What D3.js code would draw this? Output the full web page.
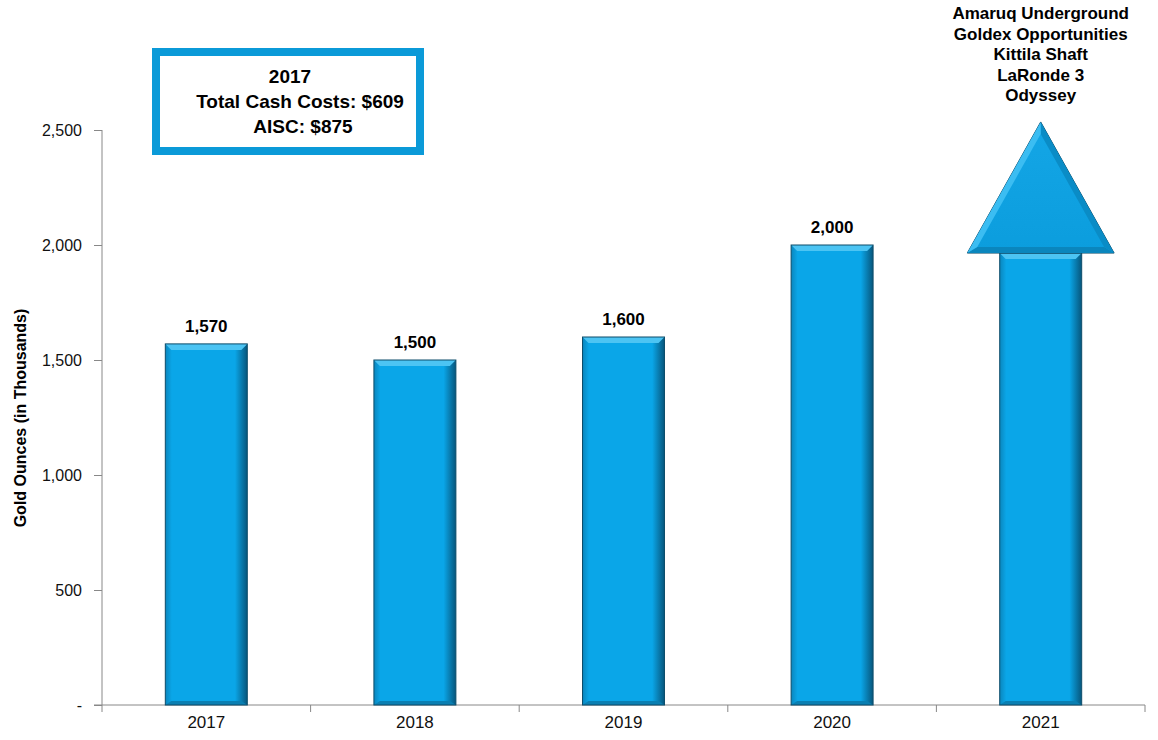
<!DOCTYPE html>
<html>
<head>
<meta charset="utf-8">
<script src="https://cdn.jsdelivr.net/npm/d3@7"></script>
<style>
  body { margin: 0; background: #fff; }
  svg { display: block; font-family: "Liberation Sans", Arial, sans-serif; }
</style>
</head>
<body>
<svg id="chart" width="1158" height="740"></svg>
<script>
  // chart data
  const years = ['2017', '2018', '2019', '2020', '2021'];
  const production = [1570, 1500, 1600, 2000, 1965];
  const valueLabels = ['1,570', '1,500', '1,600', '2,000', null];
  const arrowTip = 2535;
  const yTicks = [0, 500, 1000, 1500, 2000, 2500];
  const yTickLabels = ['-', '500', '1,000', '1,500', '2,000', '2,500'];
  const boxLines = ['2017', 'Total Cash Costs: $609', 'AISC: $875'];
  const projectLines = ['Amaruq Underground', 'Goldex Opportunities', 'Kittila Shaft', 'LaRonde 3', 'Odyssey'];

  const data = years.map((y, i) => ({ year: y, value: production[i], label: valueLabels[i] }));

  const svg = d3.select('#chart');

  const x = d3.scaleBand()
    .domain(years)
    .range([102, 1145])
    .padding(0);

  const y = d3.scaleLinear()
    .domain([0, 2500])
    .range([705, 130]);

  const barW = x.bandwidth() * 0.393;
  const bev = 6;

  // gradients
  const defs = svg.append('defs');
  const grad = defs.append('linearGradient').attr('id', 'barGrad')
    .attr('x1', 0).attr('x2', 1).attr('y1', 0).attr('y2', 0);
  grad.append('stop').attr('offset', '0%').attr('stop-color', '#0a86bd');
  grad.append('stop').attr('offset', '8%').attr('stop-color', '#0aa6e8');
  grad.append('stop').attr('offset', '85%').attr('stop-color', '#0aa6e8');
  grad.append('stop').attr('offset', '100%').attr('stop-color', '#07567c');

  const headGrad = defs.append('linearGradient').attr('id', 'headGrad')
    .attr('x1', 0).attr('x2', 0).attr('y1', 0).attr('y2', 1);
  headGrad.append('stop').attr('offset', '0%').attr('stop-color', '#14a6e6');
  headGrad.append('stop').attr('offset', '100%').attr('stop-color', '#0b9ddd');

  // y axis
  const yAxis = d3.axisLeft(y)
    .tickValues(yTicks)
    .tickFormat((d, i) => yTickLabels[i])
    .tickSize(8)
    .tickPadding(12);

  const yAxisG = svg.append('g')
    .attr('transform', 'translate(102,0)')
    .call(yAxis);
  yAxisG.selectAll('line, path').attr('stroke', '#888');
  yAxisG.selectAll('text')
    .attr('font-size', 16)
    .attr('fill', '#111')
    .attr('font-family', '"Liberation Sans", Arial, sans-serif');
  yAxisG.select('.domain').attr('d', 'M0,130V705');

  svg.append('text')
    .attr('transform', 'translate(26,418) rotate(-90)')
    .attr('text-anchor', 'middle')
    .attr('font-size', 16)
    .attr('font-weight', 'bold')
    .attr('fill', '#000')
    .text('Gold Ounces (in Thousands)');

  // x axis
  const xAxis = d3.axisBottom(x)
    .tickSize(0)
    .tickPadding(11);

  const xAxisG = svg.append('g')
    .attr('transform', 'translate(0,705)')
    .call(xAxis);
  xAxisG.select('.domain').attr('stroke', '#888').attr('d', 'M94,0H1145');
  xAxisG.selectAll('text')
    .attr('font-size', 17)
    .attr('fill', '#111')
    .attr('font-family', '"Liberation Sans", Arial, sans-serif');

  const bounds = years.map(d => x(d)).concat([x.range()[1]]);
  xAxisG.selectAll('.bound').data(bounds)
    .enter().append('line')
      .attr('class', 'bound')
      .attr('x1', d => d).attr('x2', d => d)
      .attr('y1', 0).attr('y2', 7)
      .attr('stroke', '#888');

  // bars
  const bars = svg.append('g').selectAll('g.bar').data(data)
    .enter().append('g').attr('class', 'bar');

  bars.each(function(d) {
    const g = d3.select(this);
    const x0 = x(d.year) + (x.bandwidth() - barW) / 2;
    const x1 = x0 + barW;
    const y0 = y(d.value);
    const y1 = y(0);
    g.append('rect')
      .attr('x', x0).attr('y', y0)
      .attr('width', barW).attr('height', y1 - y0)
      .attr('fill', 'url(#barGrad)');
    // top bevel
    g.append('polygon')
      .attr('points', [[x0, y0], [x1, y0], [x1 - bev, y0 + bev], [x0 + bev, y0 + bev]].join(' '))
      .attr('fill', '#4cc4f3');
    // bottom bevel
    g.append('polygon')
      .attr('points', [[x0, y1], [x1, y1], [x1 - bev, y1 - 4], [x0 + bev, y1 - 4]].join(' '))
      .attr('fill', '#0a7fb2');
    g.append('rect')
      .attr('x', x0).attr('y', y0)
      .attr('width', barW).attr('height', y1 - y0)
      .attr('fill', 'none')
      .attr('stroke', '#0d4d6b')
      .attr('stroke-width', 1);
  });

  // value labels
  svg.append('g').selectAll('text').data(data.filter(d => d.label))
    .enter().append('text')
      .attr('x', d => x(d.year) + x.bandwidth() / 2)
      .attr('y', d => y(d.value) - 12)
      .attr('text-anchor', 'middle')
      .attr('font-size', 17)
      .attr('font-weight', 'bold')
      .attr('fill', '#000')
      .text(d => d.label);

  // arrow head on the last bar
  const last = data[data.length - 1];
  const cx = x(last.year) + x.bandwidth() / 2;
  const headHalf = x.bandwidth() * 0.352;
  const baseY = y(last.value);
  const tipY = y(arrowTip);
  const hb = 6;
  const head = svg.append('g');
  head.append('polygon')
    .attr('points', [[cx - headHalf, baseY], [cx + headHalf, baseY], [cx, tipY]].join(' '))
    .attr('fill', 'url(#headGrad)')
    .attr('stroke', '#0d4d6b')
    .attr('stroke-width', 1);
  head.append('polygon')
    .attr('points', [[cx - headHalf, baseY], [cx + headHalf, baseY],
                     [cx + headHalf - 10, baseY - hb], [cx - headHalf + 10, baseY - hb]].join(' '))
    .attr('fill', '#0a86bd');
  head.append('polygon')
    .attr('points', [[cx, tipY], [cx + headHalf, baseY], [cx + headHalf - 10, baseY - hb], [cx, tipY + 12]].join(' '))
    .attr('fill', '#0a8cc6');
  head.append('polygon')
    .attr('points', [[cx, tipY], [cx - headHalf, baseY], [cx - headHalf + 10, baseY - hb], [cx, tipY + 12]].join(' '))
    .attr('fill', '#3bbdf2');

  // project list above the arrow
  svg.append('text')
    .attr('text-anchor', 'middle')
    .attr('font-size', 17)
    .attr('font-weight', 'bold')
    .attr('fill', '#000')
    .selectAll('tspan').data(projectLines)
    .enter().append('tspan')
      .attr('x', cx)
      .attr('y', (d, i) => 19 + i * 20.5)
      .text(d => d);

  // 2017 cost box
  svg.append('rect')
    .attr('x', 156).attr('y', 52)
    .attr('width', 264).attr('height', 99)
    .attr('fill', '#fff')
    .attr('stroke', '#0b9ad8')
    .attr('stroke-width', 8);

  svg.append('text')
    .attr('text-anchor', 'middle')
    .attr('font-size', 19)
    .attr('font-weight', 'bold')
    .attr('fill', '#000')
    .selectAll('tspan').data(boxLines)
    .enter().append('tspan')
      .attr('x', (d, i) => [290, 300, 303][i])
      .attr('y', (d, i) => 83 + i * 25)
      .text(d => d);
</script>
</body>
</html>
